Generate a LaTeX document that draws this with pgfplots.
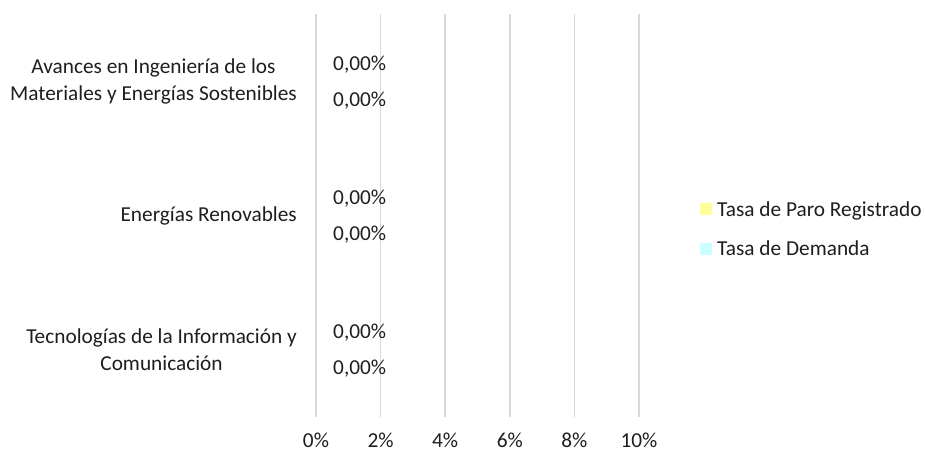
\documentclass[border=0pt]{standalone}
\usepackage{pgfplots}
\pgfplotsset{compat=1.18}
\usepackage{fontspec}
\setmainfont{Carlito}
\definecolor{paro}{RGB}{255,255,153}
\definecolor{dem}{RGB}{204,255,255}
\definecolor{txt}{RGB}{30,30,30}
\definecolor{gridc}{RGB}{217,217,217}
\begin{document}
\begin{tikzpicture}
\useasboundingbox (0pt,0pt) rectangle (925pt,-452pt);
\begin{axis}[
  at={(316pt,-417pt)}, anchor=south west,
  scale only axis, width=323pt, height=403pt,
  xbar, bar width=30pt,
  /pgf/number format/assume math mode=true,
  xmin=0, xmax=0.1, ymin=-0.5, ymax=2.5,
  xtick={0,0.02,0.04,0.06,0.08,0.1},
  xticklabels={0\%,2\%,4\%,6\%,8\%,10\%},
  ytick={0,1,2},
  yticklabels={{Tecnologías de la Información y\\Comunicación},{Energías Renovables},{Avances en Ingeniería de los\\Materiales y Energías Sostenibles}},
  font=\fontsize{21.3}{27}\selectfont,
  yticklabel style={align=center, text=txt, inner sep=0pt, xshift=-19pt},
  xticklabel style={text=txt, inner sep=0pt, yshift=-16pt},
  major tick length=0pt,
  axis line style={draw=none},
  xmajorgrids, ymajorgrids=false,
  grid style={gridc, line width=1.5pt},
  nodes near coords={\pgfmathprintnumber[fixed,fixed zerofill,precision=2,use comma]{\pgfplotspointmeta}\%},
  nodes near coords style={anchor=west, inner sep=0pt, xshift=17pt, yshift=-1pt, text=txt},
  legend style={draw=none, fill=none, at={(1.1796,0.4665)}, anchor=west, text=txt, row sep=23pt,
    nodes={inner sep=0pt}, /tikz/every odd column/.append style={column sep=5pt}},
  legend cell align=left,
  legend image code/.code={\fill[#1] (0pt,-6pt) rectangle (12pt,6pt);},
]
\addplot[fill=none, draw=none, bar shift=-18pt, forget plot] coordinates {(0,0) (0,1) (0,2)};
\addplot[fill=none, draw=none, bar shift=18pt, forget plot] coordinates {(0,0) (0,1) (0,2)};
\addlegendimage{fill=paro, draw=none}
\addlegendentry{Tasa de Paro Registrado}
\addlegendimage{fill=dem, draw=none}
\addlegendentry{Tasa de Demanda}
\end{axis}
\end{tikzpicture}
\end{document}
